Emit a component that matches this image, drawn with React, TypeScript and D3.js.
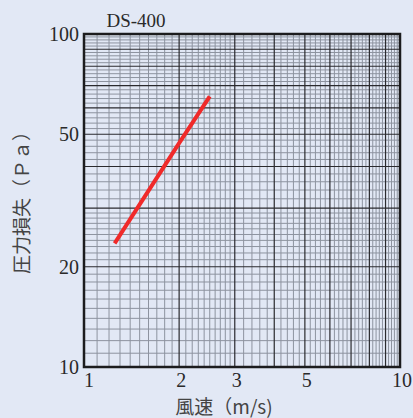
import React from "react";
import * as d3 from "d3";

const W = 413;
const H = 418;

// data
const seriesName = "DS-400";
const velocity = [1.25, 2.0, 2.5];
const pressure = [23.5, 47, 65];

const xTicks = [1, 2, 3, 5, 10];
const yTicks = [10, 20, 50, 100];

// grid segments: [from, to, step]
const xGridSegs: [number, number, number][] = [
  [1, 3, 0.1],
  [3, 5, 0.2],
  [5, 10, 0.2],
];
const yGridSegs: [number, number, number][] = [
  [10, 30, 1],
  [30, 100, 2],
];
const xMajorGrid = [2, 3, 4, 5, 6, 7, 8, 9];
const yMajorGrid = [20, 30, 40, 50, 60, 70, 80, 90];

function expand(segs: [number, number, number][]) {
  const out: number[] = [];
  segs.forEach(([a, b, s]) => {
    const n = Math.round((b - a) / s);
    for (let i = 1; i < n; i++) out.push(+(a + i * s).toFixed(4));
    out.push(b);
  });
  return out;
}

export default function App() {
  const left = 84, right = 400, top = 34, bottom = 367;
  const x = d3.scaleLog().domain([1, 10]).range([left, right]);
  const y = d3.scaleLog().domain([10, 100]).range([bottom, top]);

  const xMinor = expand(xGridSegs).filter((v) => v < 10 && !xMajorGrid.includes(v));
  const yMinor = expand(yGridSegs).filter((v) => v < 100 && !yMajorGrid.includes(v));

  const line = d3
    .line<number>()
    .x((_, i) => x(velocity[i]))
    .y((d) => y(d));

  const serif = "'Liberation Serif', 'DejaVu Serif', serif";
  const cjk = "'Noto Sans CJK JP', 'Noto Sans CJK SC', sans-serif";

  return (
    <svg
      width={W}
      height={H}
      style={{ position: "absolute", left: 0, top: 0, display: "block" }}
    >
      <rect x={0} y={0} width={W} height={H} fill="#e2e8f5" />
      <g>
        {xMinor.map((v) => (
          <line key={"xm" + v} x1={x(v)} x2={x(v)} y1={top} y2={bottom} stroke="#8d939f" strokeWidth={1} />
        ))}
        {yMinor.map((v) => (
          <line key={"ym" + v} x1={left} x2={right} y1={y(v)} y2={y(v)} stroke="#8d939f" strokeWidth={1} />
        ))}
        {xMajorGrid.map((v) => (
          <line key={"xM" + v} x1={x(v)} x2={x(v)} y1={top} y2={bottom} stroke="#2a2a2e" strokeWidth={1.2} />
        ))}
        {yMajorGrid.map((v) => (
          <line key={"yM" + v} x1={left} x2={right} y1={y(v)} y2={y(v)} stroke="#2a2a2e" strokeWidth={1.2} />
        ))}
        <rect x={left} y={top} width={right - left} height={bottom - top} fill="none" stroke="#1c1c1e" strokeWidth={2.5} />
      </g>
      <path d={line(pressure) || ""} fill="none" stroke="#f02a2a" strokeWidth={4} strokeLinecap="butt" />
      <text x={136} y={27} textAnchor="middle" fontFamily={serif} fontSize={19} fill="#2a2a2a">
        {seriesName}
      </text>
      {yTicks.map((v) => (
        <text key={"yt" + v} x={79} y={y(v)} dy="0.36em" textAnchor="end" fontFamily={serif} fontSize={20} fill="#2a2a2a">
          {v}
        </text>
      ))}
      {xTicks.map((v) => (
        <text key={"xt" + v} x={x(v) + (v === 1 ? 5 : 2)} y={387} textAnchor="middle" fontFamily={serif} fontSize={20} fill="#2a2a2a">
          {v}
        </text>
      ))}
      <text x={224} y={414} textAnchor="middle" fontFamily={cjk} fontSize={19} fill="#444">
        風速（m/s)
      </text>
      <text
        transform={`translate(29, 198) rotate(-90)`}
        textAnchor="middle"
        fontFamily={cjk}
        fontSize={19}
        fill="#444"
      >
        圧力損失（Ｐａ）
      </text>
    </svg>
  );
}
